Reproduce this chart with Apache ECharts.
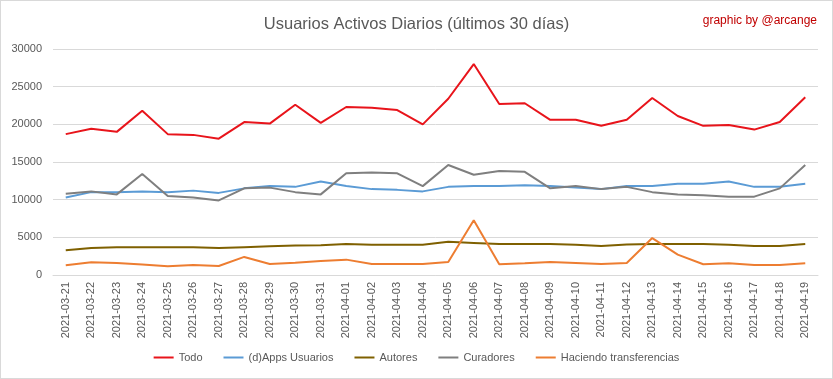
<!DOCTYPE html>
<html><head><meta charset="utf-8">
<script src="https://cdn.jsdelivr.net/npm/echarts@6/dist/echarts.min.js"></script>
<style>
html,body{margin:0;padding:0;background:#fff;}
#c{width:831px;height:377px;border:1px solid #d9d9d9;}
</style></head>
<body><div id="c"></div>
<script>
const dates = ['2021-03-21','2021-03-22','2021-03-23','2021-03-24','2021-03-25','2021-03-26','2021-03-27','2021-03-28','2021-03-29','2021-03-30','2021-03-31','2021-04-01','2021-04-02','2021-04-03','2021-04-04','2021-04-05','2021-04-06','2021-04-07','2021-04-08','2021-04-09','2021-04-10','2021-04-11','2021-04-12','2021-04-13','2021-04-14','2021-04-15','2021-04-16','2021-04-17','2021-04-18','2021-04-19'];
const todo = [18700,19400,19000,21800,18700,18600,18100,20300,20100,22600,20200,22300,22200,21900,20000,23400,28000,22700,22800,20600,20600,19800,20600,23500,21100,19800,19900,19300,20300,23600];
const apps = [10300,11000,11000,11100,11000,11200,10900,11500,11800,11700,12400,11800,11400,11300,11100,11700,11800,11800,11900,11800,11600,11400,11800,11800,12100,12100,12400,11700,11700,12100];
const autores = [3300,3600,3700,3700,3700,3700,3600,3700,3800,3900,3950,4100,4000,4000,4000,4400,4250,4100,4100,4100,4000,3850,4050,4100,4100,4100,4000,3850,3850,4100];
const curadores = [10800,11100,10700,13400,10500,10300,9900,11500,11600,11000,10700,13500,13600,13500,11800,14600,13300,13800,13700,11500,11800,11400,11700,11000,10700,10600,10400,10400,11500,14600];
const transfer = [1300,1700,1600,1400,1150,1330,1200,2400,1460,1640,1860,2040,1460,1460,1460,1730,7270,1420,1550,1730,1600,1460,1600,4900,2700,1420,1550,1330,1330,1550];
const yTicks = [0,5000,10000,15000,20000,25000,30000];

const font = 'Liberation Sans';
const chart = echarts.init(document.getElementById('c'));
function line(name, data, color){
  return {name, type:'line', data, showSymbol:false, symbol:'none', lineStyle:{width:2, color}, itemStyle:{color}};
}
chart.setOption({
  animation:false,
  textStyle:{fontFamily:font},
  title:[
    {text:'Usuarios Activos Diarios (últimos 30 días)', left:'center', top:10, textStyle:{fontFamily:font, fontSize:16.5, fontWeight:'normal', color:'#595959'}},
    {text:'graphic by @arcange', right:10, top:9, textStyle:{fontFamily:font, fontSize:12, fontWeight:'normal', color:'#c00000'}}
  ],
  legend:{bottom:10, left:'center', icon:'rect', itemWidth:20, itemHeight:2, itemGap:21,
    textStyle:{fontFamily:font, fontSize:11, color:'#595959'},
    data:['Todo','(d)Apps Usuarios','Autores','Curadores','Haciendo transferencias']},
  grid:{left:52, right:14, top:48, bottom:103},
  xAxis:{type:'category', data:dates, boundaryGap:true,
    axisLine:{lineStyle:{color:'#d9d9d9'}}, axisTick:{show:false},
    axisLabel:{rotate:90, fontSize:11, color:'#595959', fontFamily:font, margin:7, interval:0}},
  yAxis:{type:'value', min:yTicks[0], max:yTicks[yTicks.length-1], interval:5000,
    axisLine:{show:false}, axisTick:{show:false},
    splitLine:{lineStyle:{color:'#d9d9d9'}},
    axisLabel:{fontSize:11, color:'#595959', fontFamily:font, margin:11, formatter:v=>String(v)}},
  series:[
    line('Todo', todo, '#e8141b'),
    line('(d)Apps Usuarios', apps, '#5b9bd5'),
    line('Autores', autores, '#7f6000'),
    line('Curadores', curadores, '#7f7f7f'),
    line('Haciendo transferencias', transfer, '#ed7d31')
  ]
});
</script></body></html>
